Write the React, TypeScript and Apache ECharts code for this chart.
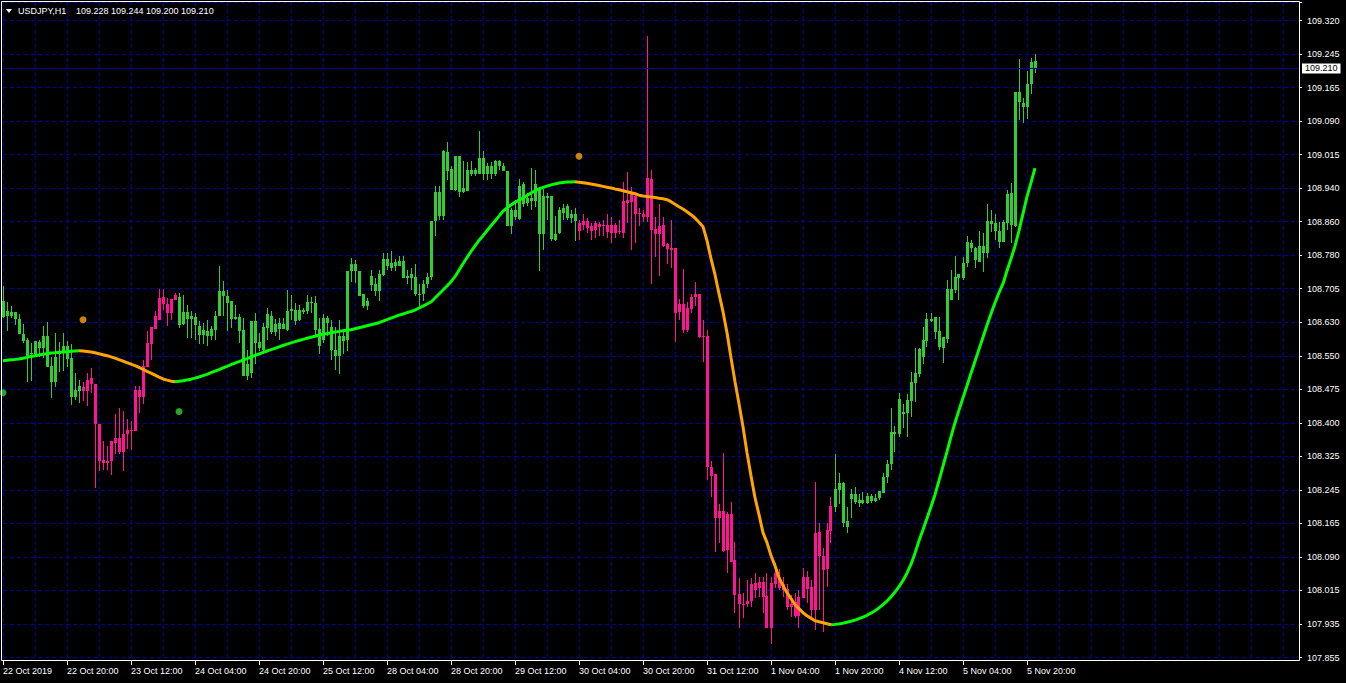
import React, { useEffect, useRef } from 'react';
import * as echarts from 'echarts';

// ---------- chart data ----------
const SYMBOL = 'USDJPY,H1';
const TOTAL_SLOTS = 325; // bar slots on the x axis (right part left empty, like MT4 chart shift)
const TIME_LABEL_STEP = 16;
const GRID_STEP = 8;
const TIME_LABELS = [
  '22 Oct 2019', '22 Oct 20:00', '23 Oct 12:00', '24 Oct 04:00', '24 Oct 20:00', '25 Oct 12:00',
  '28 Oct 04:00', '28 Oct 20:00', '29 Oct 12:00', '30 Oct 04:00', '30 Oct 20:00', '31 Oct 12:00',
  '1 Nov 04:00', '1 Nov 20:00', '4 Nov 12:00', '5 Nov 04:00', '5 Nov 20:00',
];
const PRICE_LABELS = [
  '107.855', '107.935', '108.015', '108.090', '108.165', '108.245', '108.325', '108.400', '108.475', '108.550',
  '108.630', '108.705', '108.780', '108.860', '108.940', '109.015', '109.090', '109.165', '109.245', '109.320',
];
const PRICE_MIN = 107.855;
const PRICE_STEP = 1.465 / 19;
const PRICE_MAX = 109.3627;
const BID = 109.21;

// [open, high, low, close]
const candles: number[][] = [
  [108.674,108.709,108.637,108.638],[108.640,108.672,108.605,108.653],[108.650,108.663,108.637,108.640],[108.650,108.650,108.619,108.634],
  [108.634,108.644,108.598,108.599],[108.600,108.622,108.578,108.584],[108.586,108.590,108.489,108.549],[108.554,108.578,108.490,108.555],
  [108.554,108.582,108.548,108.582],[108.581,108.586,108.546,108.567],[108.567,108.617,108.544,108.595],[108.595,108.627,108.523,108.524],
  [108.526,108.546,108.452,108.488],[108.488,108.601,108.477,108.546],[108.552,108.581,108.512,108.559],[108.555,108.601,108.515,108.572],
  [108.572,108.582,108.523,108.542],[108.545,108.575,108.436,108.454],[108.454,108.509,108.448,108.471],[108.469,108.494,108.440,108.480],
  [108.477,108.488,108.446,108.469],[108.469,108.509,108.433,108.494],[108.499,108.521,108.463,108.485],[108.485,108.485,108.245,108.393],
  [108.393,108.393,108.285,108.308],[108.310,108.352,108.287,108.302],[108.302,108.341,108.287,108.308],[108.306,108.354,108.274,108.354],
  [108.349,108.414,108.322,108.361],[108.361,108.429,108.322,108.327],[108.327,108.423,108.285,108.370],[108.369,108.404,108.335,108.379],
  [108.379,108.400,108.333,108.377],[108.377,108.480,108.377,108.471],[108.471,108.480,108.417,108.454],[108.454,108.540,108.439,108.526],
  [108.524,108.607,108.523,108.578],[108.577,108.616,108.540,108.616],[108.611,108.651,108.611,108.641],[108.632,108.703,108.632,108.682],
  [108.684,108.703,108.655,108.667],[108.668,108.682,108.617,108.647],[108.647,108.680,108.632,108.680],[108.678,108.693,108.678,108.689],
  [108.684,108.693,108.613,108.620],[108.622,108.689,108.620,108.650],[108.649,108.666,108.589,108.634],[108.634,108.651,108.589,108.641],
  [108.638,108.648,108.586,108.619],[108.618,108.628,108.575,108.597],[108.597,108.624,108.575,108.609],[108.607,108.632,108.571,108.594],
  [108.594,108.617,108.586,108.611],[108.609,108.651,108.586,108.641],[108.640,108.756,108.640,108.699],[108.699,108.720,108.640,108.686],
  [108.687,108.701,108.605,108.670],[108.674,108.674,108.613,108.634],[108.634,108.666,108.632,108.638],[108.638,108.644,108.578,108.605],
  [108.609,108.636,108.502,108.502],[108.502,108.563,108.494,108.529],[108.509,108.630,108.498,108.630],[108.630,108.648,108.529,108.578],
  [108.580,108.601,108.559,108.567],[108.563,108.624,108.552,108.615],[108.613,108.659,108.586,108.644],[108.641,108.651,108.598,108.603],
  [108.603,108.634,108.594,108.622],[108.624,108.636,108.586,108.611],[108.611,108.636,108.611,108.623],[108.609,108.701,108.607,108.653],
  [108.651,108.689,108.632,108.657],[108.655,108.670,108.620,108.630],[108.632,108.666,108.628,108.655],[108.655,108.659,108.644,108.649],
  [108.651,108.688,108.644,108.673],[108.673,108.684,108.647,108.671],[108.670,108.686,108.594,108.609],[108.611,108.636,108.552,108.572],
  [108.586,108.644,108.578,108.636],[108.636,108.640,108.595,108.624],[108.615,108.632,108.540,108.563],[108.563,108.615,108.517,108.549],
  [108.549,108.632,108.506,108.595],[108.595,108.603,108.552,108.584],[108.586,108.745,108.559,108.745],[108.743,108.774,108.718,108.759],
  [108.759,108.770,108.716,108.743],[108.745,108.745,108.686,108.686],[108.691,108.691,108.659,108.663],[108.663,108.682,108.655,108.674],
  [108.711,108.747,108.697,108.733],[108.713,108.728,108.686,108.697],[108.697,108.747,108.674,108.736],[108.734,108.785,108.732,108.772],
  [108.772,108.785,108.747,108.755],[108.751,108.791,108.743,108.762],[108.764,108.772,108.743,108.755],[108.756,108.778,108.755,108.768],
  [108.768,108.778,108.728,108.728],[108.728,108.747,108.713,108.732],[108.736,108.751,108.701,108.728],[108.730,108.761,108.687,108.690],
  [108.690,108.713,108.663,108.692],[108.690,108.724,108.674,108.713],[108.713,108.739,108.705,108.730],[108.730,108.860,108.724,108.860],
  [108.860,108.939,108.824,108.925],[108.925,108.939,108.862,108.870],[108.870,109.023,108.862,109.019],[109.018,109.040,108.954,108.975],
  [108.979,108.985,108.931,108.931],[108.931,109.009,108.927,109.009],[109.009,109.009,108.914,108.925],[108.925,108.996,108.923,108.935],
  [108.929,108.994,108.927,108.977],[108.977,108.996,108.962,108.966],[108.966,108.981,108.962,108.977],[108.968,109.067,108.966,109.005],
  [109.005,109.019,108.954,108.968],[108.968,108.992,108.954,108.985],[108.986,108.994,108.956,108.966],[108.966,109.000,108.962,108.998],
  [108.998,109.000,108.977,108.985],[108.986,108.992,108.973,108.975],[108.975,108.975,108.847,108.848],[108.848,108.889,108.828,108.885],
  [108.885,108.908,108.862,108.868],[108.864,108.956,108.862,108.940],[108.943,108.948,108.891,108.897],[108.900,108.923,108.893,108.912],
  [108.912,108.981,108.885,108.904],[108.906,108.977,108.891,108.943],[108.933,108.933,108.745,108.828],[108.828,108.933,108.793,108.917],
  [108.917,108.923,108.862,108.912],[108.917,108.917,108.812,108.818],[108.816,108.870,108.814,108.830],[108.831,108.891,108.828,108.885],
  [108.889,108.897,108.862,108.877],[108.893,108.897,108.862,108.866],[108.866,108.885,108.854,108.876],[108.876,108.889,108.812,108.858],
  [108.854,108.862,108.816,108.835],[108.850,108.874,108.839,108.858],[108.858,108.866,108.831,108.843],[108.847,108.854,108.816,108.837],
  [108.839,108.858,108.820,108.854],[108.853,108.856,108.824,108.845],[108.847,108.862,108.824,108.849],[108.850,108.876,108.820,108.833],
  [108.831,108.868,108.808,108.850],[108.850,108.854,108.820,108.831],[108.833,108.862,108.828,108.837],[108.832,108.949,108.821,108.906],
  [108.908,108.972,108.855,108.901],[108.903,108.938,108.793,108.920],[108.917,108.926,108.809,108.874],[108.874,108.890,108.848,108.878],
  [108.876,108.885,108.857,108.869],[108.869,109.285,108.857,108.959],[108.956,108.977,108.715,108.839],[108.841,108.869,108.777,108.828],
  [108.828,108.897,108.733,108.848],[108.850,108.869,108.800,108.802],[108.805,108.809,108.759,108.795],[108.798,108.862,108.752,108.793],
  [108.798,108.798,108.581,108.648],[108.650,108.680,108.632,108.667],[108.669,108.749,108.602,108.609],[108.609,108.673,108.604,108.660],
  [108.657,108.690,108.648,108.685],[108.685,108.719,108.664,108.692],[108.690,108.690,108.591,108.593],[108.593,108.632,108.535,108.595],
  [108.595,108.609,108.264,108.294],[108.294,108.308,108.225,108.273],[108.276,108.278,108.098,108.177],[108.177,108.209,108.119,108.193],
  [108.193,108.326,108.098,108.101],[108.103,108.190,108.050,108.184],[108.184,108.213,108.075,108.075],[108.080,108.121,107.958,107.999],
  [108.002,108.039,107.924,107.977],[107.977,108.004,107.947,107.979],[107.977,108.034,107.972,107.986],[107.986,108.039,107.972,108.025],
  [108.027,108.050,107.993,108.011],[108.016,108.041,107.995,108.029],[108.029,108.041,107.958,107.995],[107.997,108.050,107.924,107.924],
  [107.924,108.041,107.885,108.027],[108.025,108.073,108.016,108.050],[108.036,108.059,108.011,108.016],[108.023,108.041,107.995,108.011],
  [108.013,108.025,107.965,107.972],[107.972,107.999,107.949,107.977],[107.983,108.004,107.947,107.951],[107.951,108.011,107.924,107.995],
  [107.993,108.062,107.993,108.041],[108.041,108.055,107.981,108.013],[108.018,108.034,107.949,107.965],[107.965,108.259,107.919,108.142],
  [108.144,108.165,107.965,108.089],[108.089,108.108,107.914,108.057],[108.059,108.165,108.018,108.149],[108.147,108.225,108.119,108.204],
  [108.202,108.322,108.190,108.243],[108.241,108.280,108.207,108.257],[108.257,108.259,108.156,108.165],[108.156,108.202,108.142,108.170],
  [108.220,108.243,108.177,108.232],[108.232,108.248,108.207,108.213],[108.211,108.230,108.202,108.218],[108.218,108.236,108.207,108.211],
  [108.211,108.234,108.207,108.227],[108.227,108.230,108.211,108.216],[108.216,108.232,108.213,108.223],[108.223,108.239,108.218,108.239],
  [108.234,108.280,108.234,108.271],[108.271,108.310,108.257,108.301],[108.301,108.430,108.287,108.374],[108.374,108.388,108.328,108.368],
  [108.368,108.464,108.363,108.450],[108.420,108.437,108.384,108.416],[108.418,108.460,108.363,108.448],[108.446,108.512,108.409,108.489],
  [108.487,108.568,108.443,108.510],[108.508,108.568,108.501,108.565],[108.547,108.616,108.529,108.586],[108.584,108.648,108.570,108.634],
  [108.634,108.648,108.627,108.630],[108.639,108.639,108.588,108.604],[108.607,108.639,108.563,108.570],[108.568,108.593,108.533,108.593],
  [108.588,108.724,108.579,108.703],[108.703,108.747,108.678,108.678],[108.701,108.779,108.694,108.731],[108.729,108.736,108.678,108.736],
  [108.729,108.777,108.724,108.763],[108.763,108.825,108.754,108.811],[108.809,108.816,108.788,108.798],[108.798,108.800,108.752,108.770],
  [108.765,108.837,108.765,108.802],[108.802,108.832,108.742,108.786],[108.786,108.897,108.775,108.860],[108.860,108.885,108.834,108.851],
  [108.855,108.874,108.816,108.837],[108.837,108.857,108.798,108.811],[108.811,108.862,108.811,108.857],[108.855,108.931,108.839,108.922],
  [108.924,108.947,108.809,108.850],[108.848,109.156,108.846,109.156],[109.156,109.232,109.092,109.133],[109.131,109.143,109.085,109.122],
  [109.122,109.205,109.094,109.175],[109.173,109.235,109.150,109.225],[109.228,109.244,109.200,109.210],
];

// trend moving average, one value per bar
const trendLine: number[] = [
  108.5377,108.5389,108.5400,108.5407,108.5416,108.5435,108.5453,108.5474,108.5492,108.5508,
  108.5524,108.5538,108.5554,108.5561,108.5570,108.5577,108.5584,108.5593,108.5600,108.5607,
  108.5600,108.5589,108.5577,108.5561,108.5538,108.5515,108.5492,108.5464,108.5435,108.5400,
  108.5366,108.5331,108.5297,108.5262,108.5221,108.5177,108.5131,108.5090,108.5044,108.4998,
  108.4956,108.4929,108.4906,108.4894,108.4903,108.4917,108.4933,108.4952,108.4975,108.5002,
  108.5032,108.5064,108.5101,108.5136,108.5170,108.5209,108.5248,108.5285,108.5320,108.5354,
  108.5389,108.5423,108.5458,108.5497,108.5531,108.5566,108.5600,108.5630,108.5662,108.5694,
  108.5727,108.5759,108.5786,108.5814,108.5842,108.5867,108.5892,108.5915,108.5938,108.5968,
  108.5987,108.6003,108.6021,108.6037,108.6051,108.6067,108.6079,108.6090,108.6113,108.6136,
  108.6159,108.6182,108.6205,108.6228,108.6251,108.6286,108.6320,108.6355,108.6389,108.6424,
  108.6451,108.6481,108.6509,108.6539,108.6589,108.6631,108.6681,108.6727,108.6819,108.6911,
  108.7003,108.7095,108.7194,108.7309,108.7458,108.7608,108.7751,108.7889,108.8017,108.8142,
  108.8252,108.8367,108.8482,108.8590,108.8701,108.8816,108.8891,108.8958,108.9020,108.9071,
  108.9121,108.9177,108.9232,108.9287,108.9328,108.9363,108.9393,108.9420,108.9443,108.9462,
  108.9476,108.9485,108.9489,108.9492,108.9483,108.9471,108.9457,108.9441,108.9425,108.9407,
  108.9386,108.9368,108.9349,108.9328,108.9310,108.9287,108.9264,108.9241,108.9218,108.9184,
  108.9167,108.9154,108.9142,108.9131,108.9115,108.9103,108.9080,108.9034,108.8977,108.8919,
  108.8866,108.8804,108.8735,108.8659,108.8563,108.8459,108.8137,108.7723,108.7355,108.6918,
  108.6504,108.6021,108.5446,108.4894,108.4388,108.3859,108.3261,108.2732,108.2226,108.1835,
  108.1421,108.1191,108.0892,108.0662,108.0386,108.0202,108.0041,107.9903,107.9765,107.9673,
  107.9581,107.9512,107.9455,107.9397,107.9374,107.9351,107.9328,107.9305,107.9312,107.9323,
  107.9340,107.9360,107.9383,107.9411,107.9443,107.9480,107.9521,107.9570,107.9627,107.9691,
  107.9765,107.9848,107.9944,108.0055,108.0179,108.0322,108.0490,108.0697,108.0950,108.1237,
  108.1490,108.1755,108.2019,108.2295,108.2617,108.2951,108.3284,108.3629,108.3951,108.4239,
  108.4526,108.4802,108.5090,108.5365,108.5642,108.5918,108.6193,108.6458,108.6711,108.6941,
  108.7148,108.7447,108.7723,108.8010,108.8367,108.8758,108.9149,108.9471,108.9805,
];

// signal dots [bar index, price]
const signalUp: number[][] = [[0, 108.464], [44, 108.421]];
const signalDown: number[][] = [[20, 108.632], [144, 109.008]];

// ---------- styles ----------
const FONT = '"Liberation Sans", Arial, sans-serif';
const GRID_COLOR = '#0000A0';
const BID_COLOR = '#000096';
const CANDLE_UP = '#32CD32';
const CANDLE_DOWN = '#FF1493';
const LINE_UP = '#00FF00';
const LINE_DOWN = '#FFA500';

export default function App() {
  const ref = useRef<HTMLDivElement>(null);

  useEffect(() => {
    document.body.style.margin = '0';
    document.body.style.background = '#000';
    const chart = echarts.init(ref.current!, null, { renderer: 'svg' });

    const n = trendLine.length;
    const up: boolean[] = [];
    let prev = trendLine[1] >= trendLine[0];
    for (let i = 0; i < n; i++) {
      if (i > 0) {
        if (trendLine[i] > trendLine[i - 1]) prev = true;
        else if (trendLine[i] < trendLine[i - 1]) prev = false;
      }
      up.push(prev);
    }
    const greenData = trendLine.map((v, i) => (up[i] || (i + 1 < n && up[i + 1]) ? v : null));
    const orangeData = trendLine.map((v, i) => (!up[i] || (i + 1 < n && !up[i + 1]) ? v : null));

    // [index, open, high, low, close, trendUp]
    const candleData = candles.map(([o, h, l, c], i) => [i, o, h, l, c, up[i] ? 1 : 0]);

    const renderCandle = (_params: any, api: any) => {
      const i = api.value(0);
      const o = api.value(1), h = api.value(2), l = api.value(3), c = api.value(4);
      const col = api.value(5) ? CANDLE_UP : CANDLE_DOWN;
      const pHi = api.coord([i, h]);
      const pLo = api.coord([i, l]);
      const pTop = api.coord([i, Math.max(o, c)]);
      const pBot = api.coord([i, Math.min(o, c)]);
      const px = Math.floor(pHi[0]);
      const yTop = Math.round(pTop[1]);
      const yBot = Math.max(Math.round(pBot[1]), yTop + 1);
      return {
        type: 'group',
        children: [
          {
            type: 'rect',
            shape: { x: px, y: Math.round(pHi[1]), width: 1, height: Math.max(Math.round(pLo[1]) - Math.round(pHi[1]), 1) },
            style: { fill: col },
          },
          {
            type: 'rect',
            shape: { x: px - 1, y: yTop, width: 3, height: yBot - yTop },
            style: { fill: col },
          },
        ],
      };
    };

    const xCats = Array.from({ length: TOTAL_SLOTS }, (_, i) => String(i));
    const isTimeLabel = (idx: number) => idx % TIME_LABEL_STEP === 0 && idx / TIME_LABEL_STEP < TIME_LABELS.length;

    const last = candles[candles.length - 1];
    const priceText = last.map((v) => v.toFixed(3)).join(' ');

    chart.setOption({
      animation: false,
      backgroundColor: '#000',
      grid: { left: 3, width: 1296, top: 2, height: 655.5, containLabel: false },
      xAxis: {
        type: 'category',
        data: xCats,
        boundaryGap: false,
        offset: 3.5,
        axisLine: { show: false },
        axisTick: { show: true, interval: (idx: number) => isTimeLabel(idx), length: 4, lineStyle: { color: '#fff' } },
        axisLabel: {
          interval: (idx: number) => isTimeLabel(idx),
          formatter: (v: string) => {
            const idx = Number(v);
            return isTimeLabel(idx) ? TIME_LABELS[idx / TIME_LABEL_STEP] : '';
          },
          color: '#fff', fontSize: 9, fontFamily: FONT, align: 'left', margin: 5,
        },
        splitLine: {
          show: true,
          interval: (idx: number) => idx % GRID_STEP === 0,
          lineStyle: { color: GRID_COLOR, width: 1, type: [4, 3] },
        },
      },
      yAxis: {
        type: 'value',
        position: 'right',
        min: PRICE_MIN,
        max: PRICE_MAX,
        interval: PRICE_STEP,
        axisLine: { show: false },
        axisTick: { show: true, length: 3, lineStyle: { color: '#fff' } },
        axisLabel: {
          color: '#fff', fontSize: 9, fontFamily: FONT, margin: 8,
          formatter: (v: number) => {
            const k = Math.round((v - PRICE_MIN) / PRICE_STEP);
            const ok = Math.abs(v - (PRICE_MIN + k * PRICE_STEP)) < PRICE_STEP * 0.01;
            return ok && k >= 0 && k < PRICE_LABELS.length ? PRICE_LABELS[k] : '';
          },
        },
        splitLine: { show: true, lineStyle: { color: GRID_COLOR, width: 1, type: [4, 3] } },
      },
      series: [
        {
          type: 'custom',
          renderItem: renderCandle,
          data: candleData,
          encode: { x: 0, y: [1, 2, 3, 4] },
          clip: false,
          z: 2,
        },
        {
          type: 'line', data: greenData, symbol: 'none', showSymbol: false, z: 3,
          lineStyle: { color: LINE_UP, width: 3 }, connectNulls: false,
          markLine: {
            silent: true,
            symbol: ['none', 'none'],
            animation: false,
            lineStyle: { color: BID_COLOR, width: 1, type: 'solid' },
            label: {
              show: true, position: 'end', distance: 3,
              formatter: BID.toFixed(3),
              color: '#000', backgroundColor: '#fff', padding: [1, 3, 0, 3],
              fontSize: 9, fontFamily: FONT,
            },
            data: [{ yAxis: BID }],
          },
        },
        {
          type: 'line', data: orangeData, symbol: 'none', showSymbol: false, z: 3,
          lineStyle: { color: LINE_DOWN, width: 3 }, connectNulls: false,
        },
        { type: 'scatter', data: signalUp, symbolSize: 7, itemStyle: { color: CANDLE_UP }, z: 4 },
        { type: 'scatter', data: signalDown, symbolSize: 7, itemStyle: { color: LINE_DOWN }, z: 4 },
      ],
      graphic: [
        {
          type: 'rect', silent: true, z: 100,
          shape: { x: 1.5, y: 1.5, width: 1298, height: 659 },
          style: { fill: 'transparent', stroke: '#fff', lineWidth: 1 },
        },
        {
          type: 'polygon', silent: true, z: 100,
          shape: { points: [[6, 9], [12, 9], [9, 13]] },
          style: { fill: '#fff' },
        },
        {
          type: 'text', silent: true, z: 100, x: 18, y: 11,
          style: { text: SYMBOL, fill: '#fff', fontSize: 9, fontFamily: FONT, verticalAlign: 'middle' },
        },
        {
          type: 'text', silent: true, z: 100, x: 76, y: 11,
          style: { text: priceText, fill: '#fff', fontSize: 9, fontFamily: FONT, verticalAlign: 'middle' },
        },
      ],
    });

    return () => chart.dispose();
  }, []);

  return <div ref={ref} style={{ width: 1346, height: 683, background: '#000' }} />;
}
